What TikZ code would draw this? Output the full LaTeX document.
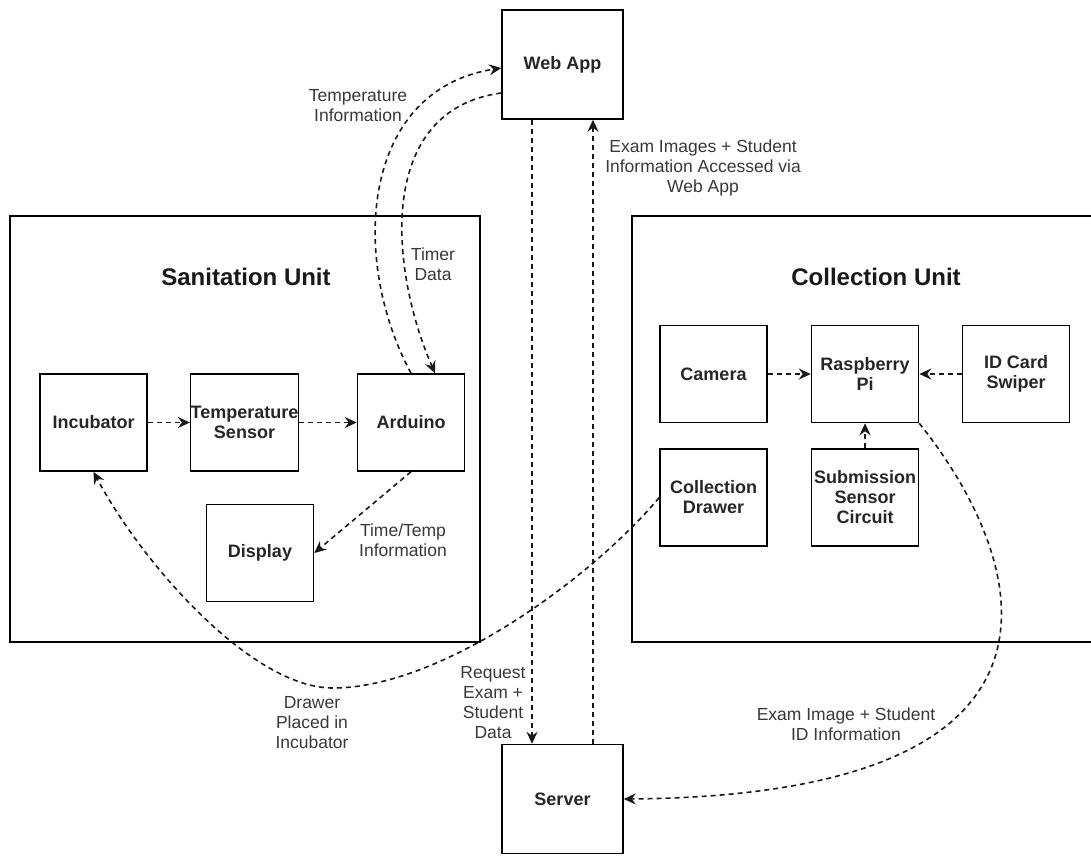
\documentclass[tikz,border=0pt]{standalone}
\usepackage{fontspec}
\setmainfont{Liberation Sans}
\usetikzlibrary{arrows.meta}
\begin{document}
\begin{tikzpicture}[x=1pt,y=-1pt,
  box/.style={draw=black,line width=1.5pt,minimum width=107pt,minimum height=97pt,align=center,font=\fontsize{18}{20}\selectfont\bfseries,text=black!85,inner sep=0pt},
  wide/.style={box,minimum width=121pt,minimum height=109pt},
  unit/.style={draw=black,line width=1.5pt,inner sep=0pt,minimum height=426pt},
  title/.style={font=\fontsize{24}{28}\selectfont\bfseries,text=black!90,inner sep=0pt},
  lbl/.style={align=center,font=\fontsize{17.5}{20}\selectfont,text=black!78,inner sep=0pt},
  flow/.style={draw=black!90,line width=1.6pt,dash pattern=on 5pt off 4pt,-{Stealth[length=12pt,width=11pt,inset=4pt]}}
]
\useasboundingbox (0,0) rectangle (1091,855);
\clip (0,0) rectangle (1091,855);

% units
\node[unit,minimum width=470pt] (san) at (245,429) {};
\node[unit,minimum width=488pt] (col) at (876,429) {};
\node[title] (santitle) at (246,277) {Sanitation Unit};
\node[title] (coltitle) at (876,277) {Collection Unit};

% top / bottom
\node[wide] (web) at (562.5,64.5) {Web App};
\node[wide] (server) at (562.5,799) {Server};

% sanitation
\node[box] (inc) at (93.5,422.5) {Incubator};
\node[box] (temp) at (244.5,422.5) {Temperature\\Sensor};
\node[box] (ard) at (411,422.5) {Arduino};
\node[box] (disp) at (260,553) {Display};

% collection
\node[box] (cam) at (713.5,374) {Camera};
\node[box] (rpi) at (865,374) {Raspberry\\Pi};
\node[box] (idc) at (1016,374) {ID Card\\Swiper};
\node[box] (drawer) at (713.5,497.5) {Collection\\Drawer};
\node[box] (sub) at (865,497.5) {Submission\\Sensor\\Circuit};

% connectors
\draw[flow] (inc) -- (temp);
\draw[flow] (temp) -- (ard);
\draw[flow] (ard.south) -- (disp.east);
\draw[flow] (cam) -- (rpi);
\draw[flow] (idc) -- (rpi);
\draw[flow] (sub) -- (rpi);

\draw[flow] (ard.north) .. controls (350,260) and (360,90) .. ([yshift=-3.5pt]web.west);
\draw[flow] ([yshift=-28.5pt]web.west) .. controls (375,110) and (390,270) .. ([xshift=24pt]ard.north);

\draw[flow] ([xshift=-30.5pt]web.south) -- ([xshift=-30.5pt]server.north);
\draw[flow] ([xshift=30.5pt]server.north) -- ([xshift=30.5pt]web.south);

\draw[flow] (rpi.south east) .. controls (1025,555) and (1110,795) .. (server.east);

\coordinate (low) at (333,688);
\draw[flow] (drawer.west) .. controls (590,580) and (440,688) .. (low)
  .. controls (250,688) and (140,560) .. (inc.south);

% labels
\node[lbl] (l1) at (358,106) {Temperature\\Information};
\node[lbl] (l2) at (433,264) {Timer\\Data};
\node[lbl] (l3) at (403,540) {Time/Temp\\Information};
\node[lbl] (l4) at (493,703) {Request\\Exam +\\Student\\Data};
\node[lbl] (l5) at (703,168) {Exam Images + Student\\Information Accessed via\\Web App};
\node[lbl] (l6) at (846,724) {Exam Image + Student\\ID Information};
\node[lbl] (l7) at (312,723) {Drawer\\Placed in\\Incubator};
\end{tikzpicture}
\end{document}
